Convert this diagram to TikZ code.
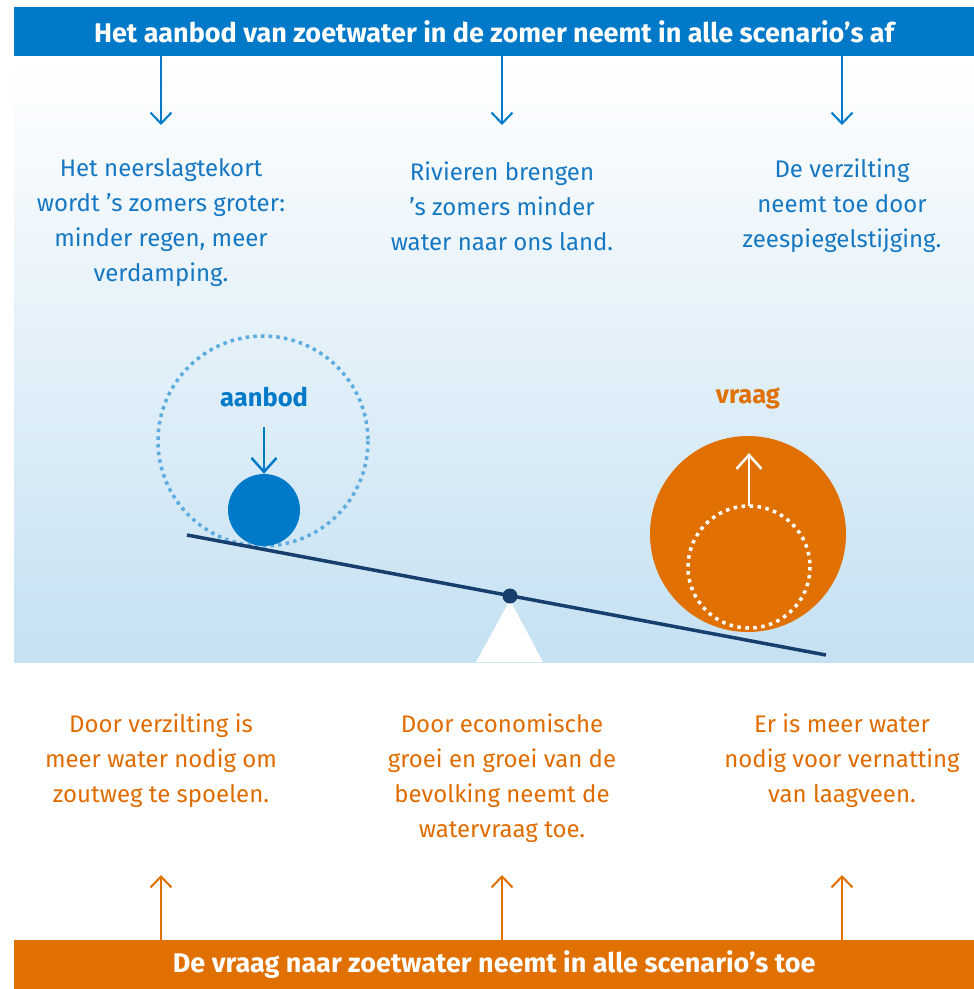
\documentclass[tikz,border=0pt]{standalone}
\usepackage{fontspec}
\setmainfont{Fira Sans}
\usetikzlibrary{arrows.meta}
\definecolor{rblue}{HTML}{0079C8}
\definecolor{tblue}{HTML}{1678C3}
\definecolor{rorange}{HTML}{E07000}
\definecolor{torange}{HTML}{E06C00}
\definecolor{beamc}{HTML}{173F6E}
\definecolor{bgblue}{HTML}{C5E1F2}
\definecolor{bgmid}{HTML}{EAF4FA}
\definecolor{dotblue}{HTML}{5CACDF}
\tikzset{
  barbox/.style={minimum width=960pt, minimum height=49pt, inner sep=0pt, anchor=north west, text=white, font=\fontsize{27}{30}\selectfont\bfseries},
  bodytext/.style={align=center, font=\fontsize{24}{35}\selectfont, inner sep=0pt},
  bluearr/.style={draw=rblue, line width=2pt, -{Straight Barb[length=11pt, width=21pt, line width=2pt]}},
  orarr/.style={draw=rorange, line width=2pt, -{Straight Barb[length=11pt, width=21pt, line width=2pt]}},
  ballabel/.style={font=\fontsize{25.5}{28}\selectfont\bfseries, inner sep=0pt},
}
\begin{document}
\begin{tikzpicture}[x=1pt,y=-1pt]
\useasboundingbox (0,0) rectangle (974,989);
% background gradient
\shade[top color=white, middle color=bgmid, bottom color=bgblue] (14,57) rectangle (974,662);
% bars
\node[barbox, fill=rblue] (top) at (14,7) {Het aanbod van zoetwater in de zomer neemt in alle scenario’s af};
\node[barbox, fill=rorange] (bot) at (14,940) {De vraag naar zoetwater neemt in alle scenario’s toe};
% top texts
\node[bodytext, text=tblue] (t1) at (161,223) {Het neerslagtekort\\wordt ’s zomers groter:\\minder regen, meer\\verdamping.};
\node[bodytext, text=tblue] (t2) at (502,206) {Rivieren brengen\\’s zomers minder\\water naar ons land.};
\node[bodytext, text=tblue] (t3) at (842,206) {De verzilting\\neemt toe door\\zeespiegelstijging.};
% bottom texts
\node[bodytext, text=torange] (b1) at (161,761) {Door verzilting is\\meer water nodig om\\zoutweg te spoelen.};
\node[bodytext, text=torange] (b2) at (502,778) {Door economische\\groei en groei van de\\bevolking neemt de\\watervraag toe.};
\node[bodytext, text=torange] (b3) at (842,761) {Er is meer water\\nodig voor vernatting\\van laagveen.};
% arrow end points
\coordinate (ta1) at (161,125);
\coordinate (ta2) at (502,125);
\coordinate (ta3) at (842,125);
\coordinate (ba1) at (161,875);
\coordinate (ba2) at (502,875);
\coordinate (ba3) at (842,875);
\draw[bluearr] (ta1 |- top.south) -- (ta1);
\draw[bluearr] (ta2 |- top.south) -- (ta2);
\draw[bluearr] (ta3 |- top.south) -- (ta3);
\draw[orarr] (ba1 |- bot.north) -- (ba1);
\draw[orarr] (ba2 |- bot.north) -- (ba2);
\draw[orarr] (ba3 |- bot.north) -- (ba3);
% fulcrum
\fill[white] (510,600) -- (476,662) -- (543,662) -- cycle;
% left side
\draw[dotblue, line width=3.5pt, dash pattern=on 3.5pt off 4.2pt] (263,441) circle[radius=105];
\node[ballabel, text=rblue] (aanbod) at (264,397) {aanbod};
\node[circle, fill=rblue, minimum size=72pt, inner sep=0pt] (lball) at (264,510) {};
\coordinate (la) at (264,427);
\draw[draw=rblue, line width=2.5pt, -{Straight Barb[length=14pt, width=25pt, line width=2.5pt]}] (la) -- (lball.north);
% right side
\node[ballabel, text=rorange] (vraag) at (748,398) {vraag};
\node[circle, fill=rorange, minimum size=196pt, inner sep=0pt] (rball) at (748,534) {};
\draw[white, line width=3.5pt, dash pattern=on 3.5pt off 4.5pt] (749,567) circle[radius=61];
\coordinate (rs) at (749,506);
\coordinate (re) at (749,453);
\draw[draw=white, line width=2.5pt, -{Straight Barb[length=14pt, width=25pt, line width=2.5pt]}] (rs) -- (re);
% beam
\coordinate (beamL) at (187,535);
\coordinate (beamR) at (826,655);
\draw[beamc, line width=3.5pt] (beamL) -- (beamR);
\node[circle, fill=beamc, minimum size=15pt, inner sep=0pt] (pivot) at (510,596) {};
\end{tikzpicture}
\end{document}
